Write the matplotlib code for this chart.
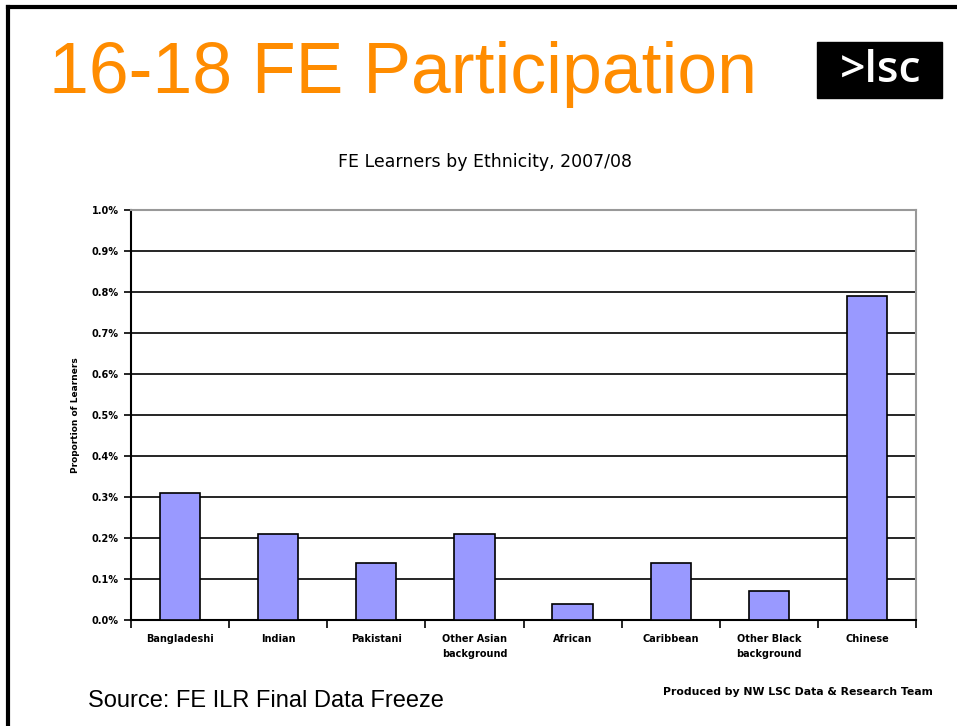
import numpy as np
import matplotlib
matplotlib.use("Agg")
import matplotlib.pyplot as plt
from matplotlib.patches import Rectangle
from matplotlib.lines import Line2D

# data
groups = ["Bangladeshi", "Indian", "Pakistani", "Other Asian\nbackground",
          "African", "Caribbean", "Other Black\nbackground", "Chinese"]
share = [0.31, 0.21, 0.14, 0.21, 0.04, 0.14, 0.07, 0.79]
yticks = [0.0, 0.1, 0.2, 0.3, 0.4, 0.5, 0.6, 0.7, 0.8, 0.9, 1.0]

fig = plt.figure(figsize=(9.57, 7.26), dpi=100)
fig.patch.set_facecolor("white")

# slide frame (top and left edge)
fig.add_artist(Line2D([8/957, 1], [1 - 7/726, 1 - 7/726], color="black", lw=3,
                      transform=fig.transFigure))
fig.add_artist(Line2D([8/957, 8/957], [0, 1 - 7/726], color="black", lw=3,
                      transform=fig.transFigure))

# slide heading
fig.text(49/957, 1 - 74/726, "16-18 FE Participation", color="#FF8C00",
         fontsize=51.5, family="Liberation Sans", va="center", ha="left")

# logo
fig.add_artist(Rectangle((817/957, 1 - 98/726), 125/957, 56/726,
                         facecolor="black", edgecolor="black",
                         transform=fig.transFigure))
fig.text(881/957, 1 - 71/726, ">lsc", color="white", fontsize=32,
         fontweight="semibold", family="Open Sans", ha="center", va="center")

ax = fig.add_axes([131/957, 1 - 620/726, 785/957, 410/726])
x = np.arange(len(groups))
ax.bar(x, share, width=0.41, color="#9999FF", edgecolor="black", linewidth=1.2,
       zorder=3)

ax.set_xlim(-0.5, len(groups) - 0.5)
ax.set_ylim(0, 1.0)
ax.set_yticks(yticks)
ax.set_yticklabels(["%.1f%%" % v for v in yticks], fontsize=7, fontweight="bold")
ax.yaxis.grid(True, color="black", linewidth=1.2, zorder=0)
ax.set_axisbelow(True)

ax.set_xticks(x)
ax.set_xticklabels(groups, fontsize=7, fontweight="bold", linespacing=1.6)
ax.set_xticks(np.arange(len(groups) + 1) - 0.5, minor=True)
ax.tick_params(axis="x", which="major", length=0, pad=10)
ax.tick_params(axis="x", which="minor", length=6, width=1.2, direction="out")
ax.tick_params(axis="y", length=5, width=1.2, direction="out", pad=4)

for s in ["left", "bottom"]:
    ax.spines[s].set_linewidth(1.5)
    ax.spines[s].set_color("black")
for s in ["top", "right"]:
    ax.spines[s].set_linewidth(1.5)
    ax.spines[s].set_color("#999999")

ax.set_ylabel("Proportion of Learners", fontsize=6.5, fontweight="bold", labelpad=8)

fig.text(485/957, 1 - 162/726, "FE Learners by Ethnicity, 2007/08", fontsize=12.5,
         ha="center", va="center")

fig.text(88/957, 1 - 701/726, "Source: FE ILR Final Data Freeze", fontsize=17,
         family="Liberation Sans", va="center", ha="left")
fig.text(933/957, 1 - 692/726, "Produced by NW LSC Data & Research Team",
         fontsize=7.8, fontweight="bold", va="center", ha="right")

fig.savefig("out.png", dpi=100)
